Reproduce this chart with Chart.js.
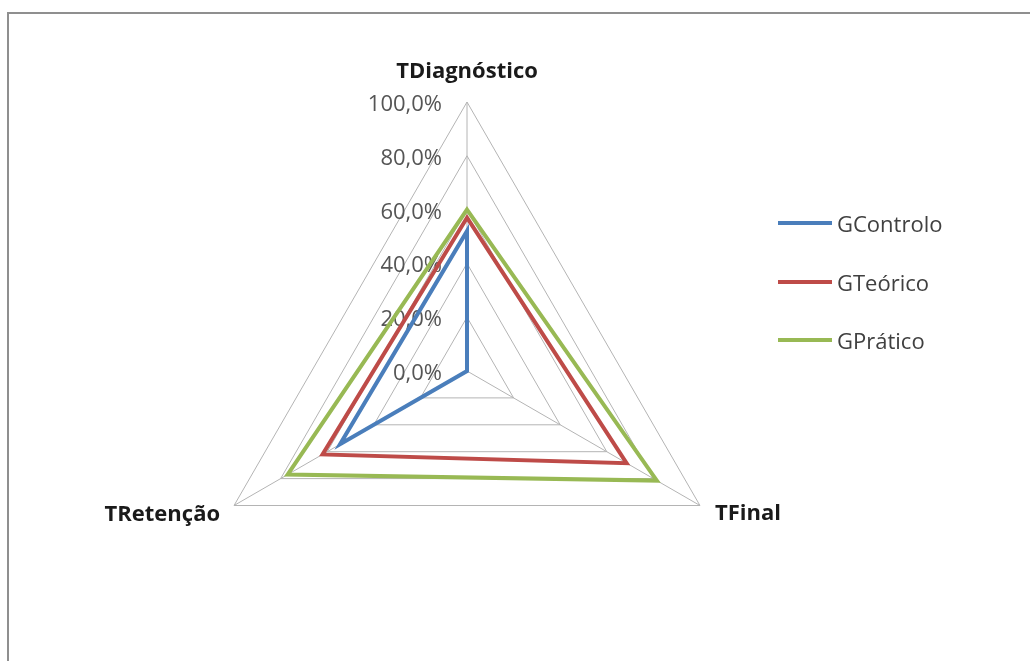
<!DOCTYPE html>
<html>
<head>
<meta charset="utf-8">
<script src="https://cdn.jsdelivr.net/npm/chart.js@4.4.0/dist/chart.umd.min.js"></script>
<style>
  html, body { margin: 0; padding: 0; background: #ffffff; }
  #wrap { position: relative; width: 1030px; height: 661px; overflow: hidden; background: #ffffff; }
  #frame { position: absolute; left: 7px; top: 12px; width: 1100px; height: 800px;
           border-top: 2px solid #8f8f8f; border-left: 2px solid #8f8f8f; }
  canvas { position: absolute; left: 0; top: 0; }
</style>
</head>
<body>
<div id="wrap">
  <div id="frame"></div>
  <canvas id="radar" width="1030" height="661"></canvas>
</div>
<script>
// Axes of the radar (one per test)
const categories = ['TDiagnóstico', 'TFinal', 'TRetenção'];

// Results per group (share of correct answers)
const gControlo = [0.52, 0.0, 0.545];
const gTeorico  = [0.57, 0.685, 0.62];
const gPratico  = [0.60, 0.815, 0.77];

const seriesNames  = ['GControlo', 'GTeórico', 'GPrático'];
const seriesColors = ['#4a7ebb', '#be4b48', '#98b954'];

// Radial tick values and their labels
const tickValues = [0, 0.2, 0.4, 0.6, 0.8, 1.0];
const tickLabels = ['0,0%', '20,0%', '40,0%', '60,0%', '80,0%', '100,0%'];

const FONT = '"Open Sans", "Liberation Sans", sans-serif';

// Tick labels sit to the left of the vertical axis, under the series lines
const tickLabelPlugin = {
  id: 'tickLabelPlugin',
  beforeDatasetsDraw(chart) {
    const s = chart.scales.r;
    const ctx = chart.ctx;
    ctx.save();
    ctx.font = '22px ' + FONT;
    ctx.fillStyle = '#555555';
    ctx.textAlign = 'right';
    ctx.textBaseline = 'alphabetic';
    tickValues.forEach((v, i) => {
      const p = s.getPointPositionForValue(0, v);
      ctx.fillText(tickLabels[i], p.x - 25, p.y + 9);
    });
    ctx.restore();
  }
};

// Category labels at the ends of the spokes, plus the legend on the right
const labelPlugin = {
  id: 'labelPlugin',
  afterDatasetsDraw(chart) {
    const s = chart.scales.r;
    const ctx = chart.ctx;
    const R = s.drawingArea;
    ctx.save();
    ctx.font = 'bold 22px ' + FONT;
    ctx.fillStyle = '#1a1a1a';
    ctx.textBaseline = 'alphabetic';

    const top = s.getPointPosition(0, R);
    ctx.textAlign = 'center';
    ctx.fillText(categories[0], top.x, top.y - 24);

    const right = s.getPointPosition(1, R);
    ctx.textAlign = 'left';
    ctx.fillText(categories[1], right.x + 15, right.y + 14.5);

    const left = s.getPointPosition(2, R);
    ctx.textAlign = 'right';
    ctx.fillText(categories[2], left.x - 14, left.y + 15.5);

    // legend
    const rows = [223, 282, 340];
    ctx.font = '22px ' + FONT;
    ctx.fillStyle = '#404040';
    ctx.textAlign = 'left';
    chart.data.datasets.forEach((ds, i) => {
      const y = rows[i];
      ctx.strokeStyle = ds.borderColor;
      ctx.lineWidth = 4;
      ctx.beginPath();
      ctx.moveTo(778, y);
      ctx.lineTo(832, y);
      ctx.stroke();
      ctx.fillText(ds.label, 837, y + 8.5);
    });
    ctx.restore();
  }
};

const seriesData = [gControlo, gTeorico, gPratico];

new Chart(document.getElementById('radar'), {
  type: 'radar',
  data: {
    labels: categories,
    datasets: seriesNames.map((name, i) => ({
      label: name,
      data: seriesData[i],
      borderColor: seriesColors[i],
      backgroundColor: 'rgba(0,0,0,0)',
      fill: false,
      borderWidth: 4,
      pointRadius: 0,
      pointHoverRadius: 0,
      order: 2 - i
    }))
  },
  options: {
    responsive: false,
    animation: false,
    layout: { padding: { left: 198, top: 102, right: 294, bottom: 21 } },
    plugins: {
      legend: { display: false },
      tooltip: { enabled: false }
    },
    elements: { line: { tension: 0, borderJoinStyle: 'miter' } },
    scales: {
      r: {
        min: 0,
        max: 1,
        ticks: { display: false, stepSize: 0.2 },
        pointLabels: { display: false },
        grid: { color: '#b4b4b4', lineWidth: 1 },
        angleLines: { color: '#b4b4b4', lineWidth: 1 }
      }
    }
  },
  plugins: [tickLabelPlugin, labelPlugin]
});
</script>
</body>
</html>
